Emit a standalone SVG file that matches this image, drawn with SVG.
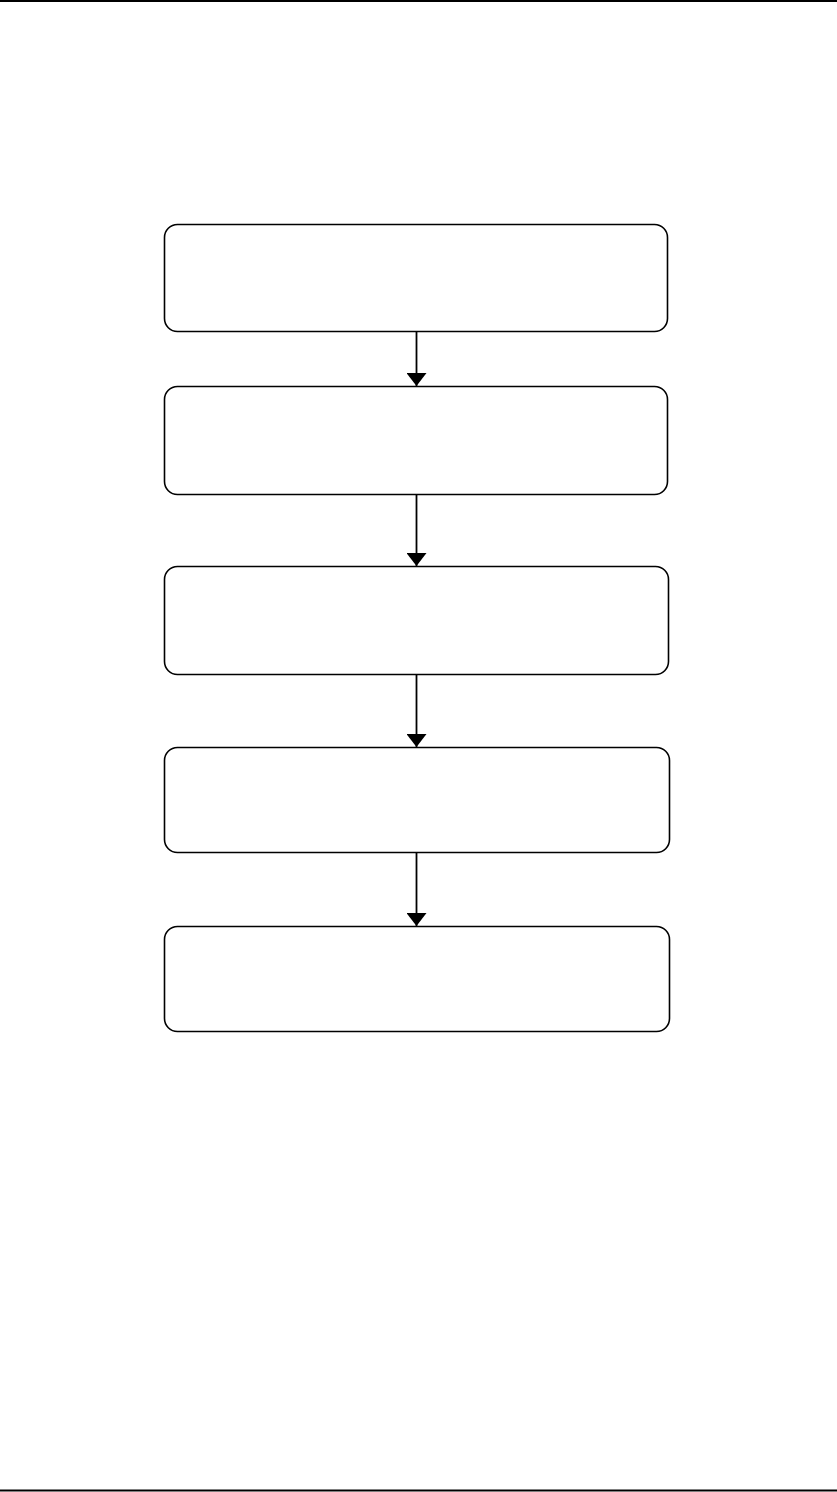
<svg xmlns="http://www.w3.org/2000/svg" width="837" height="1492" viewBox="0 0 837 1492">
<style>
.box{fill:#fff;stroke:#000;stroke-width:1.6}
.rule{stroke:#000;stroke-width:2}
.conn{stroke:#000;stroke-width:1.8;fill:none}
</style>
<defs>
<marker id="ah" markerUnits="userSpaceOnUse" markerWidth="13" markerHeight="20" refX="13" refY="10" orient="auto">
<path d="M0,0 L13,10 L0,20 Z" fill="#000"/>
</marker>
</defs>
<rect width="837" height="1492" fill="#fff"/>
<line class="rule" x1="0" y1="1" x2="837" y2="1"/>
<line class="rule" x1="0" y1="1490.5" x2="837" y2="1490.5"/>
<g id="n1"><rect class="box" x="164.5" y="224.5" width="503" height="107" rx="13"/></g>
<g id="n2"><rect class="box" x="164.5" y="386.5" width="503" height="108" rx="13"/></g>
<g id="n3"><rect class="box" x="164.5" y="566.5" width="504" height="108" rx="13"/></g>
<g id="n4"><rect class="box" x="164.5" y="747.5" width="505" height="105" rx="13"/></g>
<g id="n5"><rect class="box" x="164.5" y="926.5" width="505" height="105" rx="13"/></g>
<g id="connectors">
<line class="conn" x1="416.5" y1="332" x2="416.5" y2="386" marker-end="url(#ah)"/>
<line class="conn" x1="416.5" y1="495" x2="416.5" y2="566" marker-end="url(#ah)"/>
<line class="conn" x1="416.5" y1="675" x2="416.5" y2="747" marker-end="url(#ah)"/>
<line class="conn" x1="416.5" y1="853" x2="416.5" y2="926" marker-end="url(#ah)"/>
</g>
</svg>
